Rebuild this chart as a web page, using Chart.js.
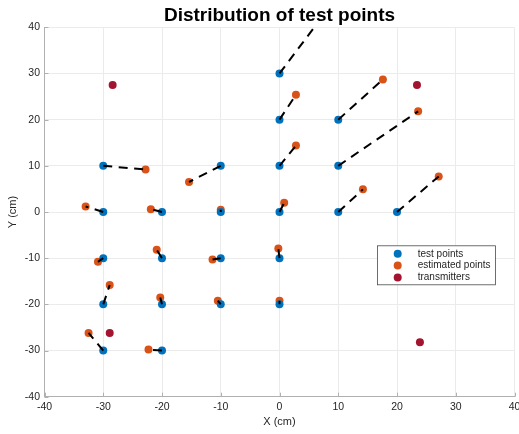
<!DOCTYPE html>
<html>
<head>
<meta charset="utf-8">
<script src="https://cdn.jsdelivr.net/npm/chart.js@4"></script>
<style>
html,body{margin:0;padding:0;overflow:hidden;background:#fff;}
#wrap{width:540px;height:434px;}
</style>
</head>
<body>
<div id="wrap"><canvas id="c" width="540" height="434"></canvas></div>
<script>
// ---- data ----
const testX = [-30,-30,-30,-30,-30,-20,-20,-20,-20,-10,-10,-10,-10,0,0,0,0,0,0,10,10,10,20];
const testY = [10,0,-10,-20,-30,0,-10,-20,-30,10,0,-10,-20,30,20,10,0,-10,-20,20,10,0,0];
const estX = [-22.8,-33.0,-30.9,-28.9,-32.5,-21.9,-20.9,-20.3,-22.3,-15.4,-10.0,-11.4,-10.5,8.0,2.8,2.8,0.8,-0.2,0.0,17.6,23.6,14.2,27.1];
const estY = [9.2,1.2,-10.8,-15.8,-26.2,0.6,-8.2,-18.5,-29.8,6.5,0.5,-10.3,-19.2,43.5,25.4,14.4,2.0,-7.9,-19.2,28.7,21.8,4.9,7.7];
const transX = [-28.4, 23.4, -28.9, 23.9];
const transY = [27.5, 27.5, -26.2, -28.2];
const xTicks = [-40,-30,-20,-10,0,10,20,30,40];
const yTicks = [-40,-30,-20,-10,0,10,20,30,40];
const seriesNames = ['test points','estimated points','transmitters'];
const seriesColors = ['#0072BD','#D95319','#A2142F'];

const toPts = (xs, ys) => xs.map((x, i) => ({x: x, y: ys[i]}));

const datasets = [
  {label: seriesNames[0], data: toPts(testX, testY), backgroundColor: seriesColors[0], borderColor: seriesColors[0], pointRadius: 4, pointBorderWidth: 0, order: 2, clip: 0},
  {label: seriesNames[1], data: toPts(estX, estY), backgroundColor: seriesColors[1], borderColor: seriesColors[1], pointRadius: 4, pointBorderWidth: 0, order: 2, clip: 0},
  {label: seriesNames[2], data: toPts(transX, transY), backgroundColor: seriesColors[2], borderColor: seriesColors[2], pointRadius: 4, pointBorderWidth: 0, order: 2, clip: 0}
];
testX.forEach((x, i) => {
  datasets.push({
    label: 'seg' + i,
    data: [{x: testX[i], y: testY[i]}, {x: estX[i], y: estY[i]}],
    showLine: true, borderColor: '#000', borderWidth: 2, borderDash: [9, 6.5],
    pointRadius: 0, fill: false, order: 1, clip: 0
  });
});

const AXIS = '#b0b0b0';

const inwardTicks = {
  id: 'inwardTicks',
  afterDatasetsDraw(chart) {
    const ctx = chart.ctx, xs = chart.scales.x, ys = chart.scales.y, a = chart.chartArea;
    ctx.save();
    ctx.strokeStyle = AXIS; ctx.lineWidth = 1;
    ctx.beginPath();
    xTicks.forEach(v => { const p = Math.round(xs.getPixelForValue(v)) + 0.5; ctx.moveTo(p, a.bottom); ctx.lineTo(p, a.bottom - 4); });
    yTicks.forEach(v => { const p = Math.round(ys.getPixelForValue(v)) + 0.5; ctx.moveTo(a.left, p); ctx.lineTo(a.left + 4, p); });
    ctx.stroke();
    ctx.restore();
  }
};

const boxLegend = {
  id: 'boxLegend',
  afterDraw(chart) {
    const ctx = chart.ctx, a = chart.chartArea;
    const L = a.right - 137.5, T = a.top + 218, W = 118, H = 39;
    ctx.save();
    ctx.fillStyle = '#fff';
    ctx.fillRect(L, T, W, H);
    ctx.strokeStyle = '#4a4a4a'; ctx.lineWidth = 0.8;
    ctx.strokeRect(L + 0.5, T + 0.5, W, H);
    ctx.font = '10px "Liberation Sans", Arial, sans-serif';
    ctx.textBaseline = 'middle'; ctx.textAlign = 'left';
    seriesNames.forEach((n, i) => {
      const cy = T + 8.5 + i * 11.8;
      ctx.fillStyle = seriesColors[i];
      ctx.beginPath(); ctx.arc(L + 20.7, cy, 4, 0, Math.PI * 2); ctx.fill();
      ctx.fillStyle = '#262626';
      ctx.fillText(n, L + 40.7, cy);
    });
    ctx.restore();
  }
};

new Chart(document.getElementById('c'), {
  type: 'scatter',
  data: {datasets: datasets},
  plugins: [inwardTicks, boxLegend],
  options: {
    responsive: false,
    animation: false,
    devicePixelRatio: 1,
    layout: {padding: {left: 0, right: 25.5, top: 0, bottom: 0}},
    plugins: {
      legend: {display: false},
      tooltip: {enabled: false},
      title: {
        display: true, text: 'Distribution of test points', fullSize: false,
        color: '#000', font: {family: '"Liberation Sans", Arial, sans-serif', size: 19, weight: 'bold'},
        padding: {top: 4.5, bottom: 0}
      }
    },
    scales: {
      x: {
        type: 'linear', min: -40, max: 40,
        afterBuildTicks(s) { s.ticks = xTicks.map(v => ({value: v})); },
        afterFit(s) { s.height = 37.3; },
        ticks: {color: '#262626', font: {family: '"Liberation Sans", Arial, sans-serif', size: 10.5}, padding: 4.5, maxRotation: 0, autoSkip: false},
        grid: {color: '#ebebeb', drawTicks: false, lineWidth: 1},
        border: {color: AXIS, width: 1},
        title: {display: true, text: 'X (cm)', color: '#262626', font: {family: '"Liberation Sans", Arial, sans-serif', size: 11}, padding: {top: 0, bottom: 5.7}}
      },
      y: {
        type: 'linear', min: -40, max: 40,
        afterBuildTicks(s) { s.ticks = yTicks.map(v => ({value: v})); },
        afterFit(s) { s.width = 44.5; },
        ticks: {color: '#262626', font: {family: '"Liberation Sans", Arial, sans-serif', size: 10.5}, padding: 4.5, autoSkip: false},
        grid: {color: '#ebebeb', drawTicks: false, lineWidth: 1},
        border: {color: AXIS, width: 1},
        title: {display: true, text: 'Y (cm)', color: '#262626', font: {family: '"Liberation Sans", Arial, sans-serif', size: 11}, padding: {top: 6, bottom: 0}}
      }
    }
  }
});
</script>
</body>
</html>
